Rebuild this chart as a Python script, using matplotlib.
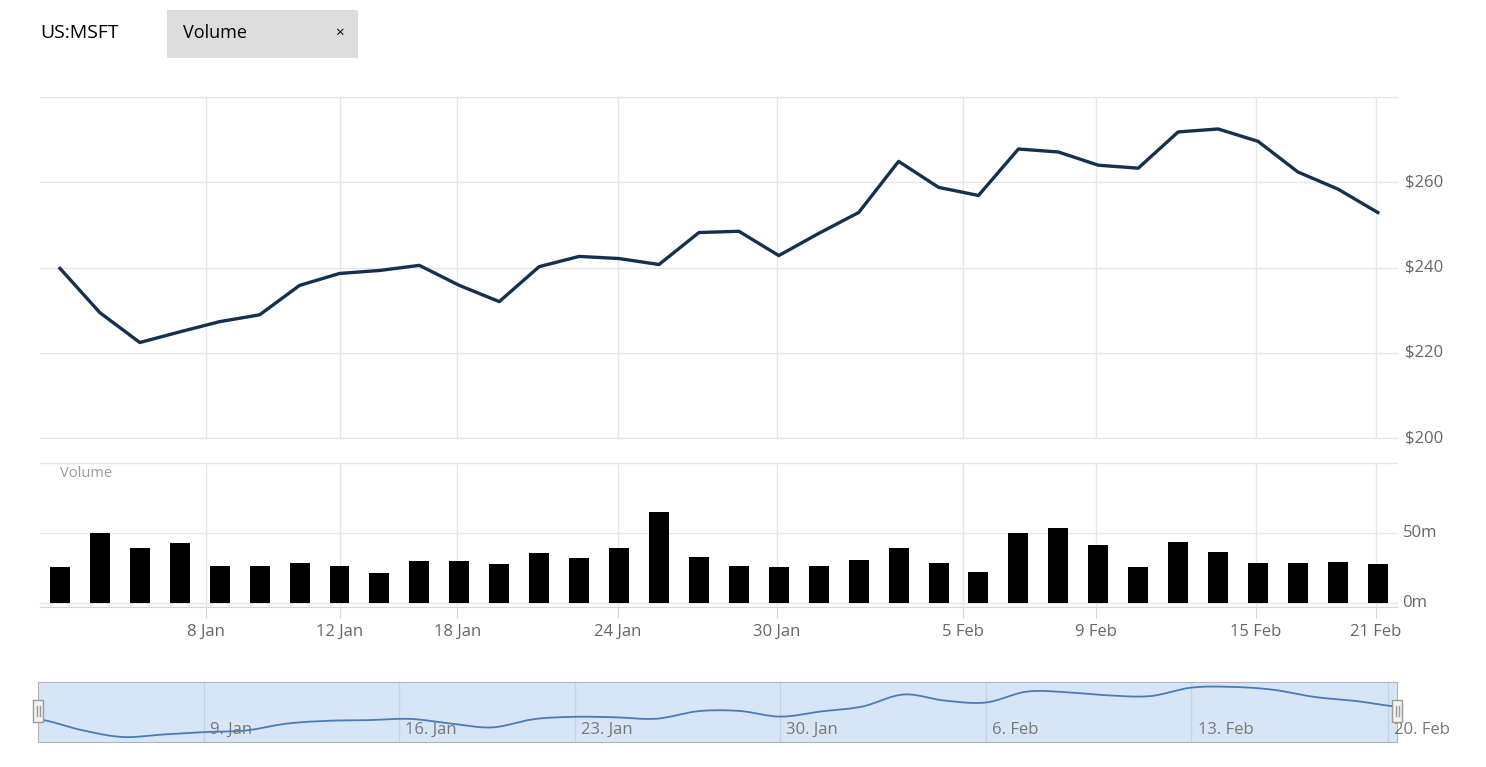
import numpy as np
import matplotlib
matplotlib.use("Agg")
import matplotlib.pyplot as plt
from matplotlib.patches import Rectangle

plt.rcParams['font.family'] = ['Open Sans', 'DejaVu Sans']

# Cours de clôture (ordre des séances)
price = [239.8, 229.4, 222.4, 224.9, 227.3, 228.9, 235.8, 238.6, 239.3, 240.5,
         235.8, 232.0, 240.2, 242.6, 242.1, 240.7, 248.2, 248.5, 242.8, 248.0,
         252.9, 264.9, 258.8, 256.9, 267.8, 267.1, 264.0, 263.3, 271.8, 272.5,
         269.6, 262.4, 258.4, 252.9]

# Volume en millions
volume = [25.7, 50.0, 39.3, 42.9, 26.4, 26.4, 28.6, 26.4, 21.4, 30.0,
          30.0, 27.9, 35.7, 32.1, 39.3, 65.0, 32.9, 26.4, 25.7, 26.4,
          30.7, 39.3, 28.6, 22.1, 50.0, 53.6, 41.4, 25.7, 43.6, 36.4,
          28.6, 28.6, 29.3, 27.9]

# Graduations de l'axe principal
main_ticks = [3.65, 7.0, 9.95, 13.97, 17.95, 22.6, 25.95, 29.95, 32.95]
main_labels = ['8 Jan', '12 Jan', '18 Jan', '24 Jan', '30 Jan', '5 Feb', '9 Feb', '15 Feb', '21 Feb']

# Graduations du navigateur
nav_ticks = [3.99, 8.73, 13.01, 18.0, 23.0, 28.0, 32.78]
nav_labels = ['9. Jan', '16. Jan', '23. Jan', '30. Jan', '6. Feb', '13. Feb', '20. Feb']

price_ticks = [200, 220, 240, 260]
vol_ticks = [0, 50]

W, H = 1486, 767
fig = plt.figure(figsize=(W / 100, H / 100), dpi=100)


def box(x0, y0, x1, y1):
    return [x0 / W, 1 - y1 / H, (x1 - x0) / W, (y1 - y0) / H]


grid_c = '#e6e6e6'
label_c = '#666666'
x = np.arange(len(price))
xlim = (-0.5, 33.48)

# Panneau des prix
ax = fig.add_axes(box(40, 97, 1397, 438))
ax.plot(x, price, color='#15304f', lw=2.4, solid_joinstyle='round')
ax.set_xlim(*xlim)
ax.set_ylim(200, 280)
for t in [200, 220, 240, 260, 280]:
    ax.axhline(t, color=grid_c, lw=1, zorder=0, clip_on=False)
for t in main_ticks:
    ax.axvline(t, color=grid_c, lw=1, zorder=0)
ax.set_xticks([])
ax.set_yticks([])
for s in ax.spines.values():
    s.set_visible(False)
for t in price_ticks:
    ax.annotate('$%d' % t, xy=(1, t), xycoords=('axes fraction', 'data'),
                xytext=(6, 0), textcoords='offset points', ha='left', va='center',
                fontsize=12, color=label_c, annotation_clip=False)

# Panneau du volume
axv = fig.add_axes(box(40, 463, 1397, 607))
axv.bar(x, volume, width=0.5, color='black', zorder=2)
axv.set_xlim(*xlim)
axv.set_ylim(-2.86, 100)
for t in [0, 50, 100]:
    axv.axhline(t, color=grid_c, lw=1, zorder=0, clip_on=False)
for t in main_ticks:
    axv.axvline(t, color=grid_c, lw=1, zorder=0)
for s in ['top', 'left', 'right']:
    axv.spines[s].set_visible(False)
axv.spines['bottom'].set_color('#ccd6eb')
axv.set_yticks([])
axv.set_xticks(main_ticks)
axv.set_xticklabels(main_labels, fontsize=12, color=label_c)
axv.tick_params(axis='x', length=8, color='#ccd6eb', pad=4)
for t in vol_ticks:
    axv.annotate('%dm' % t, xy=(1, t), xycoords=('axes fraction', 'data'),
                 xytext=(4, 0), textcoords='offset points', ha='left', va='center',
                 fontsize=12, color=label_c, annotation_clip=False)
axv.text(0.015, 0.93, 'Volume', transform=axv.transAxes, fontsize=10.5,
         color='#999999', ha='left', va='center')

# Navigateur
axn = fig.add_axes(box(38, 682, 1397, 742))
axn.set_facecolor('#d7e6f6')
# courbe lissée (Catmull-Rom) pour le rendu
p = np.array(price)
pp = np.concatenate([[p[0]], p, [p[-1]]])
sx, sy = [], []
for i in range(len(p) - 1):
    p0, p1, p2, p3 = pp[i], pp[i + 1], pp[i + 2], pp[i + 3]
    for u in np.linspace(0, 1, 12, endpoint=False):
        sx.append(i + u)
        sy.append(0.5 * ((2 * p1) + (-p0 + p2) * u + (2 * p0 - 5 * p1 + 4 * p2 - p3) * u ** 2
                         + (-p0 + 3 * p1 - 3 * p2 + p3) * u ** 3))
sx.append(len(p) - 1)
sy.append(p[-1])
axn.plot(sx, sy, color='#4a7bb7', lw=1.3)
axn.set_xlim(-0.05, 33.0)
axn.set_ylim(217.4, 277.4)
for t in nav_ticks:
    axn.axvline(t, color='#c5d3e2', lw=1, zorder=0)
    axn.text(t + 0.15, 0.2, nav_labels[nav_ticks.index(t)], fontsize=12, color='#777777',
             ha='left', va='center', transform=axn.get_xaxis_transform(), clip_on=False)
axn.set_xticks([])
axn.set_yticks([])
for s in axn.spines.values():
    s.set_color('#b3b3b3')

# poignées
for hx in [38, 1397]:
    fig.patches.append(Rectangle(((hx - 5) / W, 1 - 722 / H), 10 / W, 22 / H,
                                 transform=fig.transFigure, facecolor='#f2f2f2',
                                 edgecolor='#999999', lw=1, zorder=5))
    for dx in [-1.5, 1.5]:
        fig.lines.append(plt.Line2D([(hx + dx) / W] * 2, [1 - 706 / H, 1 - 716 / H],
                                    transform=fig.transFigure, color='#999999', lw=1, zorder=6))

# En-tête
fig.text(40 / W, 1 - 33 / H, 'US:MSFT', fontsize=14, color='black', ha='left', va='center')
fig.patches.append(Rectangle((167 / W, 1 - 58 / H), 191 / W, 48 / H,
                             transform=fig.transFigure, facecolor='#dcdcdc', edgecolor='none'))
fig.text(183 / W, 1 - 33 / H, 'Volume', fontsize=13, color='black', ha='left', va='center')
fig.text(339 / W, 1 - 33 / H, '×', fontsize=11, color='black', ha='center', va='center')

fig.savefig('out.png', dpi=100)
